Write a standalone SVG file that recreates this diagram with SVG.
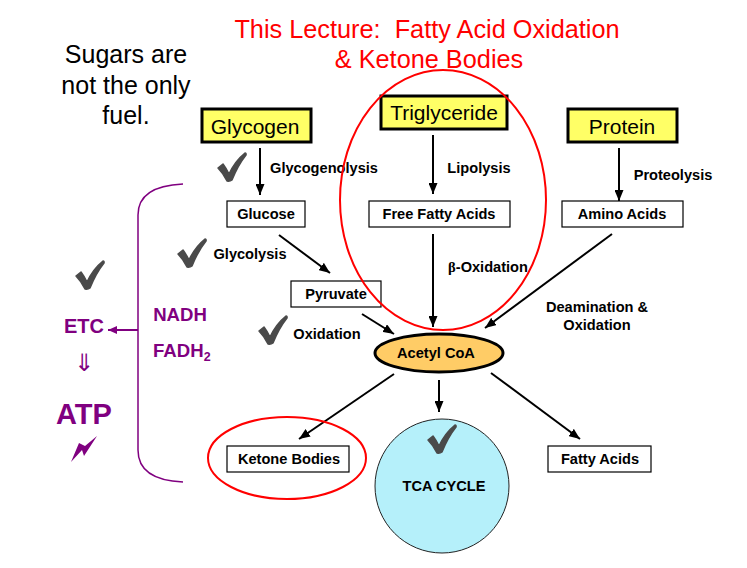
<svg xmlns="http://www.w3.org/2000/svg" width="747" height="568" viewBox="0 0 747 568">
<style>
text{font-family:"Liberation Sans",Arial,sans-serif;text-anchor:middle;fill:#000}
.b{font-weight:bold;font-size:14.6px}
.head{font-size:21px}
.red{font-size:25.3px;fill:#f00}
.sug{font-size:25px}
.pur{font-weight:bold;font-size:18.6px;fill:#800080}
.yel{fill:#ffff66;stroke:#000;stroke-width:3}
.box{fill:#fff;stroke:#000;stroke-width:1.2}
.ln{stroke:#000;stroke-width:2;fill:none;marker-end:url(#ah)}
.ring{fill:none;stroke:#f00;stroke-width:2}
.ck{fill:#4a4a4a;stroke:#4a4a4a;stroke-width:1.5;stroke-linejoin:round}
</style>
<defs>
<marker id="ah" markerUnits="userSpaceOnUse" markerWidth="12" markerHeight="9" refX="11" refY="4.500" orient="auto"><path d="M0,0L11,4.500L0,9Z" fill="#000"/></marker>
<marker id="ap" markerUnits="userSpaceOnUse" markerWidth="10" markerHeight="8" refX="9" refY="4" orient="auto"><path d="M0,0L9,4L0,8Z" fill="#800080"/></marker>
<path id="ck" class="ck" d="M1,16L6,12Q9,16 12,22Q18,9 28,1Q29.500,1 29,3Q21,13 15,28Q13,29.500 10,29Q6,21 1,16Z"/>
</defs>

<g id="connectors">
<path class="ln" d="M260,148V195"/>
<path class="ln" d="M433,135V194"/>
<path class="ln" d="M619,148V201"/>
<path class="ln" d="M279,235L330,273"/>
<path class="ln" d="M362,314L394,334"/>
<path class="ln" d="M433,234V327"/>
<path class="ln" d="M612,234L485,328"/>
<path class="ln" d="M394,374L299,439"/>
<path class="ln" d="M439,380V412"/>
<path class="ln" d="M491,373L580,439"/>
<path d="M138,330H108" fill="none" stroke="#800080" stroke-width="2" marker-end="url(#ap)"/>
</g>

<g id="title"><text class="red" x="427" y="38" xml:space="preserve">This Lecture:  Fatty Acid Oxidation</text><text class="red" x="429" y="68">&amp; Ketone Bodies</text></g>
<g id="sugars"><text class="sug" x="126" y="63">Sugars are</text><text class="sug" x="126" y="94">not the only</text><text class="sug" x="126" y="124">fuel.</text></g>

<g id="glycogen"><rect class="yel" x="202" y="109" width="109" height="33"/><text class="head" x="255" y="134">Glycogen</text></g>
<g id="triglyceride"><rect class="yel" x="381" y="96" width="126" height="33"/><text class="head" x="444" y="120">Triglyceride</text></g>
<g id="protein"><rect class="yel" x="568" y="109" width="109" height="33"/><text class="head" x="622" y="134">Protein</text></g>

<g id="glucose"><rect class="box" x="227" y="201" width="78" height="26"/><text class="b" x="266" y="219">Glucose</text></g>
<g id="ffa"><rect class="box" x="369" y="201" width="141" height="26"/><text class="b" x="439" y="219">Free Fatty Acids</text></g>
<g id="amino"><rect class="box" x="562" y="201" width="121" height="26"/><text class="b" x="622" y="219">Amino Acids</text></g>
<g id="pyruvate"><rect class="box" x="291" y="281" width="90" height="26"/><text class="b" x="336" y="299">Pyruvate</text></g>
<g id="acetyl"><ellipse cx="439" cy="353" rx="64" ry="19" fill="#ffcc66" stroke="#000" stroke-width="3"/><text class="b" x="436" y="358">Acetyl CoA</text></g>
<g id="ketone"><rect class="box" x="227" y="446" width="122" height="26"/><text class="b" x="289" y="464">Ketone Bodies</text></g>
<g id="tca"><circle cx="442" cy="486" r="67" fill="#b5f0fa" stroke="#222" stroke-width="1"/><text class="b" x="444" y="491">TCA CYCLE</text></g>
<g id="fatty"><rect class="box" x="548" y="446" width="103" height="26"/><text class="b" x="600" y="464">Fatty Acids</text></g>

<g id="labels">
<text class="b" x="324" y="173">Glycogenolysis</text>
<text class="b" x="479" y="173">Lipolysis</text>
<text class="b" x="673" y="180">Proteolysis</text>
<text class="b" x="250" y="259">Glycolysis</text>
<text class="b" x="488" y="272"><tspan font-family="'Liberation Serif',serif" font-weight="bold" fill="#000">β</tspan>-Oxidation</text>
<text class="b" x="327" y="339">Oxidation</text>
<text class="b" x="597" y="312">Deamination &amp;</text>
<text class="b" x="597" y="330">Oxidation</text>
</g>

<g id="rings">
<ellipse class="ring" cx="443" cy="200" rx="103" ry="130"/>
<ellipse class="ring" cx="287" cy="458" rx="79" ry="41"/>
</g>

<g id="checks">
<use href="#ck" x="217" y="152"/>
<use href="#ck" x="177" y="238"/>
<use href="#ck" x="258" y="315"/>
<use href="#ck" x="75" y="260"/>
<use href="#ck" x="427" y="424"/>
</g>

<g id="energy">
<path d="M183,184Q138,186 138,215V450Q138,480 183,482" fill="none" stroke="#800080" stroke-width="1.5"/>
<text class="pur" x="180" y="321">NADH</text>
<text class="pur" x="153" y="357" style="text-anchor:start">FADH<tspan font-size="12.500" dy="4">2</tspan></text>
<text class="pur" x="84" y="333" style="font-size:20px">ETC</text>
<text x="84" y="371" style="font-size:24px;fill:#800080;font-family:'DejaVu Sans',sans-serif">⇓</text>
<text x="84" y="424" style="font-weight:bold;font-size:29px;fill:#800080">ATP</text>
<path d="M97,436L84,456L82,450L71,462L79,443L85,446Z" fill="#800080"/>
</g>
</svg>
